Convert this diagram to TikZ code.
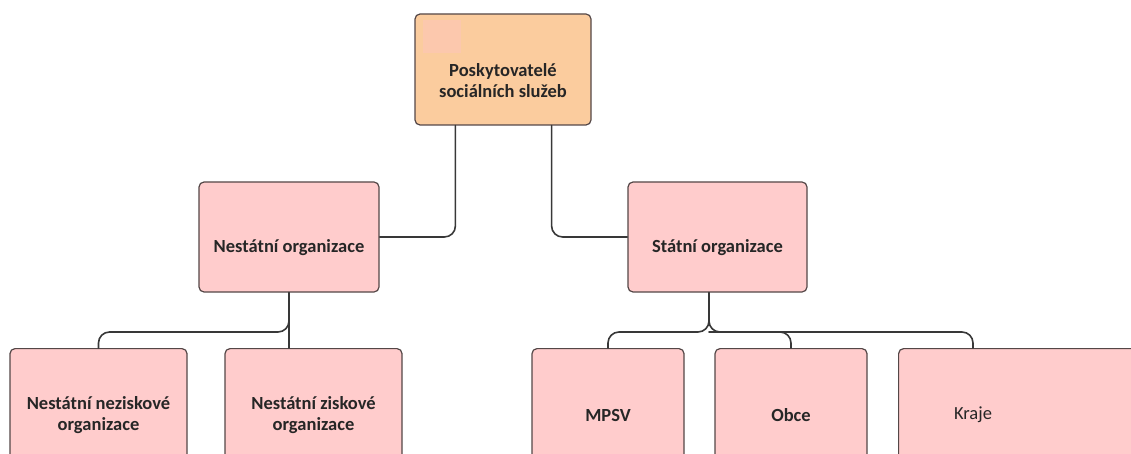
\documentclass[tikz,border=0pt]{standalone}
\usepackage{fontspec}
\setmainfont{Carlito}
\usepackage{tikz}
\usetikzlibrary{positioning}
\definecolor{ffccaa}{rgb}{0.984,0.800,0.620}
\definecolor{ffcccc}{rgb}{1.,0.800,0.800}
\definecolor{ffc4b8}{rgb}{0.988,0.785,0.680}
\definecolor{qqbord}{rgb}{0.33,0.28,0.28}
\definecolor{qqline}{rgb}{0.22,0.22,0.22}
\tikzset{
  box/.style={draw=qqbord,line width=1.2pt,rounded corners=5pt,fill=ffcccc,inner sep=0pt},
  lbl/.style={font=\fontsize{18.5}{21}\selectfont\bfseries,align=center,text=black!85},
  conn/.style={draw=qqline,line width=1.6pt,rounded corners=11pt}
}
\begin{document}
\begin{tikzpicture}[line cap=round,line join=round,x=1pt,y=-1pt]
\useasboundingbox (0,0) rectangle (1131,454);
\clip (0,0) rectangle (1131,454);
% boxes
\node[box,fill=ffccaa,minimum width=176pt,minimum height=111pt] (top) at (503,69.5) {};
\fill[ffc4b8] (423,20) rectangle (461,53);
\node[box,minimum width=180pt,minimum height=110pt] (nestat) at (289,237) {};
\node[box,minimum width=179pt,minimum height=110pt] (stat) at (717.5,237) {};
\node[box,minimum width=177pt,minimum height=134pt,anchor=north] (nezisk) at (98.5,348) {};
\node[box,minimum width=177pt,minimum height=134pt,anchor=north] (zisk) at (313.5,348) {};
\node[box,minimum width=152pt,minimum height=134pt,anchor=north] (mpsv) at (608,348) {};
\node[box,minimum width=152pt,minimum height=134pt,anchor=north] (obce) at (791,348) {};
\node[box,minimum width=260pt,minimum height=134pt,anchor=north west] (kraje) at (898,348) {};
% texts
\node[lbl] (ttop) at ([yshift=-11pt]top.center) {Poskytovatelé\\sociálních služeb};
\node[lbl] (tnestat) at ([yshift=-11pt]nestat.center) {Nestátní organizace};
\node[lbl] (tstat) at ([yshift=-11pt]stat.center) {Státní organizace};
\node[lbl] (tnezisk) at ([yshift=-67pt]nezisk.north) {Nestátní neziskové\\organizace};
\node[lbl] (tzisk) at ([yshift=-67pt]zisk.north) {Nestátní ziskové\\organizace};
\node[lbl] (tmpsv) at ([yshift=-67pt]mpsv.north) {MPSV};
\node[lbl] (tobce) at ([yshift=-67pt]obce.north) {Obce};
\node[lbl,font=\fontsize{18.5}{21}\selectfont] (tkraje) at (973,415) {Kraje};
% connectors
\coordinate (nb) at ([yshift=-26pt]nestat.south);
\coordinate (sb) at ([xshift=-8.5pt]stat.south);
\coordinate (sj) at ([yshift=-24pt]sb);
\draw[conn] ([xshift=41pt]top.south west) |- (nestat.east);
\draw[conn] ([xshift=-40pt]top.south east) |- (stat.west);
\draw[conn] (nestat.south) -- (nestat.south |- zisk.north);
\draw[conn] (nb) |- ([yshift=16pt]nezisk.north) -- (nezisk.north);
\draw[conn] (sb) -- (sj);
\draw[conn] (sj) |- ([yshift=16pt]mpsv.north) -- (mpsv.north);
\draw[conn] (sj) |- ([yshift=16pt]tkraje.north |- kraje.north) -- (tkraje.north |- kraje.north);
\draw[conn] ([yshift=16pt]obce.north -| sj) -- ([yshift=16pt]obce.north) -- (obce.north);
\end{tikzpicture}
\end{document}
